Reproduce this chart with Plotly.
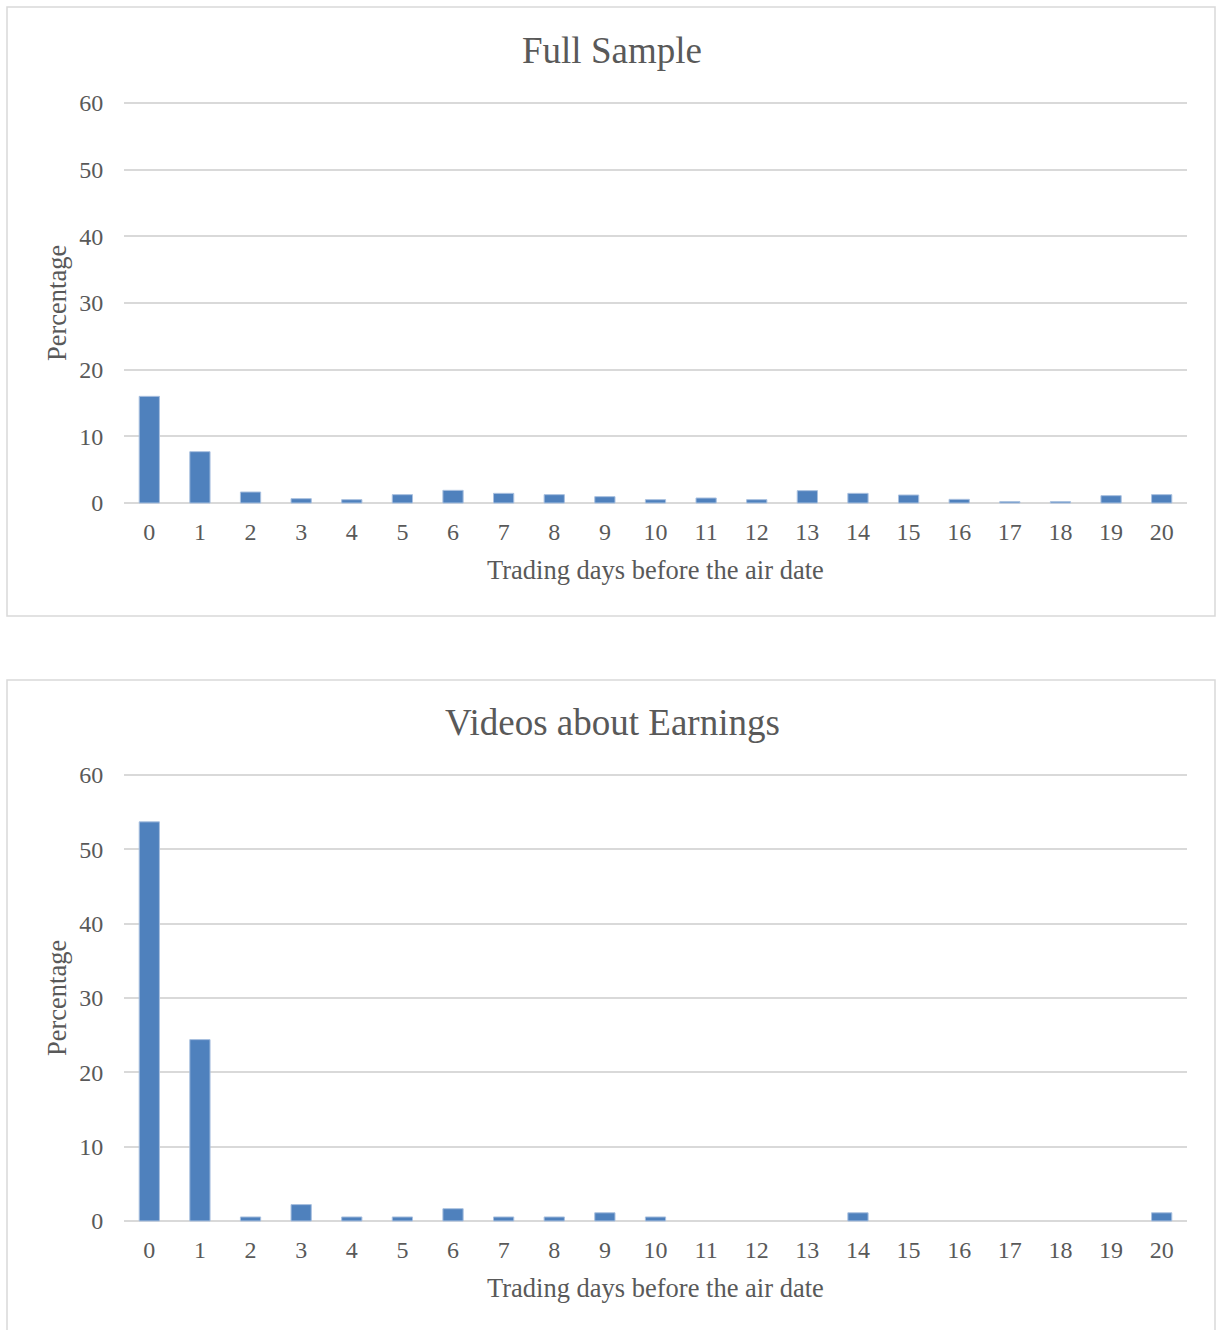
import plotly.graph_objects as go

days = list(range(21))
day_labels = [str(d) for d in days]
full_sample = [16.0, 7.7, 1.65, 0.65, 0.5, 1.25, 1.9, 1.45, 1.25, 0.95, 0.5,
               0.75, 0.5, 1.85, 1.45, 1.2, 0.55, 0.2, 0.2, 1.1, 1.25]
earnings = [53.7, 24.4, 0.54, 2.2, 0.54, 0.54, 1.65, 0.54, 0.54, 1.1, 0.54,
            0, 0, 0, 1.1, 0, 0, 0, 0, 0, 1.1]
y_ticks = [0, 10, 20, 30, 40, 50, 60]
titles = ["Full Sample", "Videos about Earnings"]
x_title = "Trading days before the air date"
y_title = "Percentage"

W, H = 1217, 1330
FONT = "Liberation Serif, Times New Roman, serif"
TXT = "#595959"
GRID = "#d9d9d9"
BAR = "#4f81bd"
PAD = 0.3  # small range padding so the edge gridlines (0 and 60) are drawn

def px(x):
    return x / W

def py(y):
    return 1 - y / H

fig = go.Figure()
for vals, xa, ya in [(full_sample, "x", "y"), (earnings, "x2", "y2")]:
    fig.add_trace(go.Bar(
        x=days, y=vals, xaxis=xa, yaxis=ya,
        marker=dict(color=BAR,
                    line=dict(color="#a9c0df",
                              width=[1 if v > 0 else 0 for v in vals])),
        width=0.4, showlegend=False))

xdom = [px(124), px(1187)]
axis_common_x = dict(
    range=[-0.5, 20.5], tickmode="array", tickvals=days, ticktext=day_labels,
    showgrid=False, zeroline=False, showline=False, automargin=False,
    ticks="outside", ticklen=5, tickcolor="rgba(0,0,0,0)",
    tickfont=dict(family=FONT, size=24, color=TXT), domain=xdom, fixedrange=True,
)
axis_common_y = dict(
    range=[-PAD, 60 + PAD], tickmode="array", tickvals=y_ticks,
    showgrid=True, gridcolor=GRID, gridwidth=1.5, automargin=False,
    zeroline=False, showline=False,
    ticks="outside", ticklen=15, tickcolor="rgba(0,0,0,0)",
    tickfont=dict(family=FONT, size=24, color=TXT), fixedrange=True,
)

fig.update_layout(
    width=W, height=H, margin=dict(l=0, r=0, t=0, b=0, pad=0, autoexpand=False),
    paper_bgcolor="white", plot_bgcolor="white",
    bargap=0.6,
    xaxis=dict(axis_common_x, anchor="y"),
    yaxis=dict(axis_common_y, anchor="x", domain=[py(505), py(101)]),
    xaxis2=dict(axis_common_x, anchor="y2"),
    yaxis2=dict(axis_common_y, anchor="x2", domain=[py(1223.2), py(772.8)]),
)

shapes = []
for (y0, y1) in [(7, 616), (680, 1345)]:
    shapes.append(dict(type="rect", xref="paper", yref="paper",
                       x0=px(7), x1=px(1215), y0=py(y1), y1=py(y0),
                       line=dict(color=GRID, width=1.5), fillcolor="rgba(0,0,0,0)",
                       layer="below"))
fig.update_layout(shapes=shapes)

ann = []
for title, ty, xty, yty in [(titles[0], 50, 570, 303), (titles[1], 722, 1288, 998)]:
    ann.append(dict(text=title, x=px(612), y=py(ty), xref="paper", yref="paper",
                    showarrow=False, xanchor="center", yanchor="middle",
                    font=dict(family=FONT, size=37, color=TXT)))
    ann.append(dict(text=x_title, x=px(655), y=py(xty), xref="paper", yref="paper",
                    showarrow=False, xanchor="center", yanchor="middle",
                    font=dict(family=FONT, size=26.5, color=TXT)))
    ann.append(dict(text=y_title, x=px(57), y=py(yty), xref="paper", yref="paper",
                    showarrow=False, xanchor="center", yanchor="middle", textangle=-90,
                    font=dict(family=FONT, size=26.5, color=TXT)))
fig.update_layout(annotations=ann)

fig.write_html("out.html")
